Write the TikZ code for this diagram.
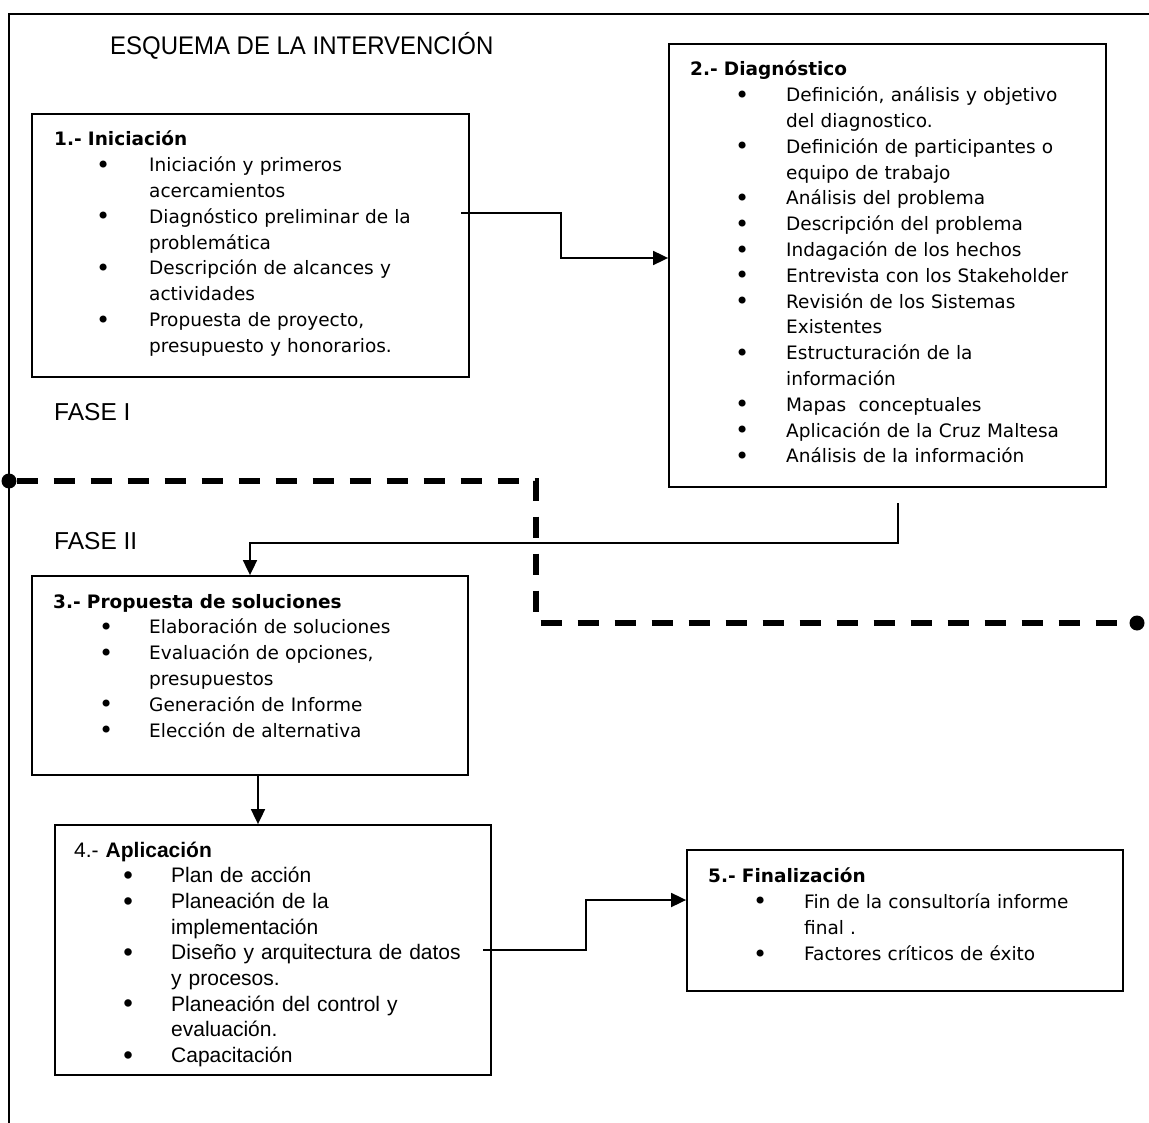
\documentclass[tikz,border=0pt]{standalone}
\usepackage{fontspec}
\usetikzlibrary{arrows.meta}
\setmainfont{DejaVu Sans}
\newfontfamily\arialfont{Liberation Sans}
\newfontfamily\titlefont{Liberation Sans}[FakeStretch=0.94]

% bullet list helpers: bullet centred at \bpos, item text starting at \tpos
\newlength\bpos
\newlength\tpos
\newcommand\bset[2]{\setlength\bpos{#1pt}\setlength\tpos{#2pt}}
\newcommand\bmark{\raisebox{-0.08em}{\scalebox{1.3}{\textbullet}}}
\newcommand\bitem[1]{\hspace*{\bpos}\makebox[0pt]{\bmark}\hspace*{\dimexpr\tpos-\bpos\relax}#1}
\newcommand\bcont[1]{\hspace*{\tpos}#1}

\tikzset{
  box/.style={draw, rectangle, line width=1.8pt, inner sep=0pt},
  conn/.style={line width=1.8pt, -{Triangle[length=15pt,width=14pt]}},
  frameline/.style={line width=1.8pt},
  phase/.style={line width=5.5pt, dash pattern=on 21.5pt off 15.5pt},
  dot/.style={circle, fill=black, inner sep=0pt, minimum size=15pt},
  txt/.style={anchor=base west, inner sep=0pt, text width=440pt, align=left,
    font=\fontsize{18.5}{25.8}\selectfont},
  txtnarrow/.style={anchor=base west, inner sep=0pt, text width=440pt, align=left,
    font=\arialfont\fontsize{21}{25.7}\selectfont},
  label/.style={anchor=base west, inner sep=0pt, font=\arialfont\fontsize{24.5}{28}\selectfont}
}

\begin{document}
\begin{tikzpicture}[x=1pt,y=-1pt]
\useasboundingbox (0,0) rectangle (1149,1123);

% outer frame (top and left sides only)
\draw[frameline] (9,1123) -- (9,14) -- (1149,14);

% headings
\node[label, font=\titlefont\fontsize{25.5}{28}\selectfont] (title) at (110,55) {ESQUEMA DE LA INTERVENCIÓN};
\node[label] (fase1) at (54,420) {FASE I};
\node[label] (fase2) at (54,549) {FASE II};

% boxes
\node[box, minimum width=437pt, minimum height=263pt] (b1) at (250.5,245.5) {};
\node[box, minimum width=437pt, minimum height=443pt] (b2) at (887.5,265.5) {};
\node[box, minimum width=436pt, minimum height=199pt] (b3) at (250,675.5) {};
\node[box, minimum width=436pt, minimum height=250pt] (b4) at (273,950) {};
\node[box, minimum width=436pt, minimum height=141pt] (b5) at (905,920.5) {};

% box contents
\node[txt] (t1) at (54,146) {\bset{49}{95}\textbf{1.- Iniciación}\\
\bitem{Iniciación y primeros}\\
\bcont{acercamientos}\\
\bitem{Diagnóstico preliminar de la}\\
\bcont{problemática}\\
\bitem{Descripción de alcances y}\\
\bcont{actividades}\\
\bitem{Propuesta de proyecto,}\\
\bcont{presupuesto y honorarios.}};

\node[txt] (t2) at (690,76) {\bset{52}{96}\textbf{2.- Diagnóstico}\\
\bitem{Definición, análisis y objetivo}\\
\bcont{del diagnostico.}\\
\bitem{Definición de participantes o}\\
\bcont{equipo de trabajo}\\
\bitem{Análisis del problema}\\
\bitem{Descripción del problema}\\
\bitem{Indagación de los hechos}\\
\bitem{Entrevista con los Stakeholder}\\
\bitem{Revisión de los Sistemas}\\
\bcont{Existentes}\\
\bitem{Estructuración de la}\\
\bcont{información}\\
\bitem{Mapas~~conceptuales}\\
\bitem{Aplicación de la Cruz Maltesa}\\
\bitem{Análisis de la información}};

\node[txt] (t3) at (53,608) {\bset{53}{96}\textbf{3.- Propuesta de soluciones}\\
\bitem{Elaboración de soluciones}\\
\bitem{Evaluación de opciones,}\\
\bcont{presupuestos}\\
\bitem{Generación de Informe}\\
\bitem{Elección de alternativa}};

\begin{scope}
\clip (40,815) rectangle (500,1066);
\node[txtnarrow] (t4) at (74,857) {\bset{54}{97}4.- \textbf{Aplicación}\\
\bitem{Plan de acción}\\
\bitem{Planeación de la}\\
\bcont{implementación}\\
\bitem{Diseño y arquitectura de datos}\\
\bcont{y procesos.}\\
\bitem{Planeación del control y}\\
\bcont{evaluación.}\\
\bitem{Capacitación}};
\end{scope}

\node[txt, font=\fontsize{18.5}{26.3}\selectfont] (t5) at (708,882) {\bset{52}{96}\textbf{5.- Finalización}\\
\bitem{Fin de la consultoría informe}\\
\bcont{final .}\\
\bitem{Factores críticos de éxito}};

% connectors
\coordinate (s12) at (461,213);
\coordinate (k12) at (561,258);
\draw[conn] (s12) -| (k12) -- (k12 -| b2.west);

\coordinate (s23) at (898,503);
\coordinate (k23) at (250,543);
\draw[conn] (s23) |- (k23) -- (k23 |- b3.north);

\coordinate (k34) at (258,800);
\draw[conn] (k34 |- b3.south) -- (k34 |- b4.north);

\coordinate (s45) at (483,950);
\coordinate (k45) at (586,900);
\draw[conn] (s45) -| (k45) -- (k45 -| b5.west);

% dashed phase boundary
\node[dot] (d1) at (9,481) {};
\node[dot] (d2) at (1137,623) {};
\coordinate (c1) at (536,481);
\coordinate (c2) at (536,623);
\draw[phase] (d1) -- (c1) -- (c2) -- (d2);
\end{tikzpicture}
\end{document}
